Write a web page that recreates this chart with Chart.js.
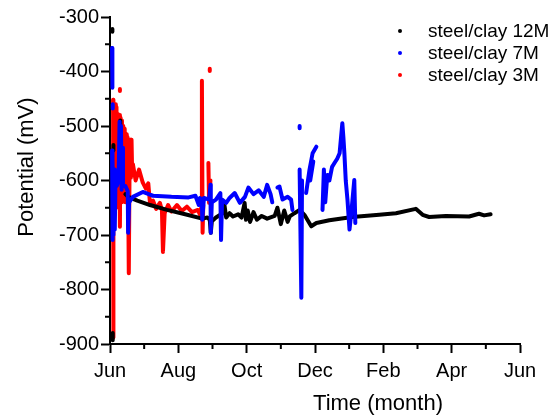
<!DOCTYPE html>
<html><head><meta charset="utf-8">
<script src="https://cdn.jsdelivr.net/npm/chart.js@4/dist/chart.umd.min.js"></script>
<style>
html,body{margin:0;padding:0;background:#fff;}
#wrap{position:relative;width:556px;height:416px;}
#c{position:absolute;left:0;top:0;}
#legend{position:absolute;left:398px;top:20px;font:19px "Liberation Sans",Arial,sans-serif;color:#000;}
.row{height:22px;line-height:22px;white-space:nowrap;display:flex;align-items:center;}
.dot{display:inline-block;width:4px;height:4px;border-radius:50%;margin-right:26px;}
</style></head><body>
<div id="wrap"><canvas id="c" width="556" height="416"></canvas><div id="legend"></div></div>
<script>
// tick labels for months 0..12 (Jun .. Jun)
const monthLabels = ['Jun','','Aug','','Oct','','Dec','','Feb','','Apr','','Jun'];
const seriesNames = ['steel/clay 12M','steel/clay 7M','steel/clay 3M'];
const seriesColors = ['#000000','#0000ff','#ff0000'];
const xTitle = 'Time (month)';
const yTitle = 'Potential (mV)';

// [month since June, potential mV]; null = gap
const steel12M = [
 [0.07,-322],[0.07,-327],null,
 [0.08,-893],[0.08,-880],null,
 [0.1,-535],[0.1,-545],null,
 [0.3,-490],[0.3,-500],null,
 [0.45,-625],[0.53,-630],[0.8,-637],[1.17,-645],[1.67,-654],[2.2,-662],[2.7,-670],[2.85,-668],
 [2.92,-672],[2.95,-696],[2.98,-675],[3.1,-668],[3.3,-660],[3.35,-645],[3.4,-668],[3.5,-660],[3.6,-666],
 [3.75,-662],[3.85,-668],[3.94,-641],[3.98,-672],[4.03,-655],[4.1,-676],[4.2,-658],[4.3,-672],[4.44,-665],
 [4.6,-670],[4.82,-665],[4.9,-650],[5.0,-680],[5.1,-655],[5.2,-676],[5.26,-666],[5.4,-660],[5.55,-654],
 [5.69,-663],[5.89,-684],[6.04,-678],[6.42,-673],[7.09,-667],[7.88,-663],[8.37,-660],[8.95,-652],
 [9.15,-663],[9.34,-667],[9.83,-665],[10.51,-666],[10.8,-661],[10.95,-664],[11.14,-662]
];
const steel7M = [
 [0.06,-357],[0.07,-430],null,
 [0.08,-460],[0.08,-468],null,
 [0.06,-545],[0.07,-709],[0.08,-560],[0.1,-700],[0.12,-580],[0.14,-690],[0.16,-600],[0.2,-610],
 [0.25,-600],[0.28,-492],[0.3,-600],[0.32,-500],[0.34,-617],[0.36,-540],[0.38,-610],[0.45,-610],
 [0.52,-620],[0.53,-696],[0.56,-640],[0.67,-630],[0.96,-621],[1.17,-626],[1.26,-628],[1.8,-630],
 [2.3,-631],[2.5,-628],[2.6,-645],[2.63,-632],[2.69,-635],[2.7,-672],[2.75,-632],[2.9,-635],
 [2.94,-608],[2.95,-696],[2.98,-640],[3.1,-635],[3.23,-623],[3.25,-709],[3.28,-635],[3.4,-641],
 [3.5,-632],[3.65,-623],[3.8,-641],[3.95,-630],[4.05,-613],[4.2,-625],[4.35,-618],[4.5,-630],
 [4.6,-608],[4.7,-625],[4.75,-640],null,
 [4.9,-613],[4.96,-611],[5.05,-635],[5.2,-630],[5.3,-635],[5.34,-654],null,
 [5.55,-500],[5.55,-504],null,
 [5.55,-580],[5.6,-815],[5.62,-600],null,
 [5.74,-623],[5.84,-580],[5.93,-550],[6.04,-538],null,
 [5.86,-600],[5.95,-565],null,
 [6.22,-654],[6.26,-580],[6.3,-640],[6.36,-590],[6.42,-600],[6.5,-575],[6.57,-568],[6.65,-560],
 [6.72,-550],[6.8,-495],[6.83,-520],[6.86,-550],[6.9,-600],[6.95,-635],[7.01,-690],[7.07,-654],
 [7.15,-599],[7.18,-678]
];
const steel3M = [
 [0.29,-432],[0.29,-436],null,
 [0.09,-452],[0.09,-888],[0.1,-700],[0.11,-455],[0.13,-640],[0.15,-460],[0.17,-620],[0.19,-465],
 [0.21,-640],[0.23,-478],[0.25,-650],[0.27,-480],[0.29,-685],[0.31,-485],[0.33,-640],[0.35,-490],
 [0.37,-620],[0.39,-500],[0.41,-610],[0.43,-505],[0.45,-640],[0.47,-515],[0.49,-600],[0.51,-520],
 [0.53,-600],[0.55,-580],[0.55,-770],[0.57,-600],[0.59,-525],[0.61,-595],[0.63,-525],[0.65,-590],
 [0.67,-570],[0.75,-600],[0.85,-580],[0.96,-604],[1.05,-615],[1.12,-605],[1.17,-641],[1.26,-637],
 [1.35,-652],[1.46,-641],[1.52,-655],[1.55,-731],[1.6,-660],[1.7,-645],[1.8,-657],[1.96,-645],
 [2.1,-656],[2.25,-648],[2.4,-658],[2.57,-654],[2.63,-662],[2.67,-650],[2.69,-417],[2.71,-696],
 [2.73,-645],null,
 [2.92,-395],[2.92,-399],null,
 [2.88,-568],[2.9,-641],[2.94,-600]
];

const toXY = arr => arr.map(p => p ? {x:p[0], y:p[1]} : {x:null, y:null});
const allSeries = [steel12M, steel7M, steel3M];
const drawOrder = [1, 0, 2]; // blue on top, black middle, red bottom

Chart.defaults.font.family = '"Liberation Sans", Arial, sans-serif';
Chart.defaults.color = '#000';

const minorTicks = {
  id: 'minorTicks',
  afterDraw(chart) {
    const {ctx, scales:{x, y}, chartArea} = chart;
    ctx.save();
    ctx.strokeStyle = '#000';
    ctx.lineWidth = 2;
    ctx.beginPath();
    for (let m = 1; m < 12; m += 2) {
      const px = x.getPixelForValue(m);
      ctx.moveTo(px, chartArea.bottom); ctx.lineTo(px, chartArea.bottom + 5);
    }
    for (let v = -850; v < -300; v += 100) {
      const py = y.getPixelForValue(v);
      ctx.moveTo(chartArea.left - 5, py); ctx.lineTo(chartArea.left, py);
    }
    ctx.stroke();
    // axis titles
    ctx.fillStyle = '#000';
    ctx.font = '22px "Liberation Sans", Arial, sans-serif';
    ctx.textAlign = 'center';
    ctx.textBaseline = 'middle';
    ctx.fillText(xTitle, 378, 404);
    ctx.translate(27, 167);
    ctx.rotate(-Math.PI/2);
    ctx.fillText(yTitle, 0, 0);
    ctx.restore();
  }
};

const chart = new Chart(document.getElementById('c'), {
  type: 'scatter',
  data: {
    datasets: allSeries.map((s, i) => ({
      label: seriesNames[i],
      data: toXY(s),
      showLine: true,
      spanGaps: false,
      borderColor: seriesColors[i],
      backgroundColor: seriesColors[i],
      borderWidth: 4,
      borderJoinStyle: 'round',
      borderCapStyle: 'round',
      pointRadius: 0,
      order: drawOrder[i]
    }))
  },
  options: {
    responsive: false,
    animation: false,
    devicePixelRatio: 1,
    layout: { padding: { left: 0, right: 36, top: 17, bottom: 0 } },
    plugins: { legend: { display: false }, tooltip: { enabled: false } },
    scales: {
      x: {
        type: 'linear', min: 0, max: 12,
        afterFit: s => { s.height = 72; },
        border: { color: '#000', width: 2 },
        grid: { drawOnChartArea: false, drawTicks: true, tickLength: 9,
                tickWidth: 2,
                tickColor: c => (c.tick && c.tick.value % 2 === 0) ? '#000' : 'rgba(0,0,0,0)' },
        ticks: { stepSize: 1, autoSkip: false, maxRotation: 0, padding: 6,
                 font: { size: 20 }, color: '#000',
                 callback: v => monthLabels[v] || '' }
      },
      y: {
        type: 'linear', min: -900, max: -300,
        afterFit: s => { s.width = 110; },
        border: { color: '#000', width: 2 },
        grid: { drawOnChartArea: false, drawTicks: true, tickLength: 9,
                tickWidth: 2,
                tickColor: c => (c.tick && c.tick.value % 100 === 0) ? '#000' : 'rgba(0,0,0,0)' },
        ticks: { stepSize: 50, padding: 2, font: { size: 20 }, color: '#000',
                 callback: v => (v % 100 === 0) ? String(v) : '' }
      }
    }
  },
  plugins: [minorTicks]
});

// HTML legend built from the chart's datasets, in dataset order
const leg = document.getElementById('legend');
chart.data.datasets.forEach(ds => {
  const row = document.createElement('div'); row.className = 'row';
  const dot = document.createElement('span'); dot.className = 'dot'; dot.style.background = ds.borderColor;
  const txt = document.createElement('span'); txt.textContent = ds.label;
  row.appendChild(dot); row.appendChild(txt); leg.appendChild(row);
});
</script>
</body></html>
